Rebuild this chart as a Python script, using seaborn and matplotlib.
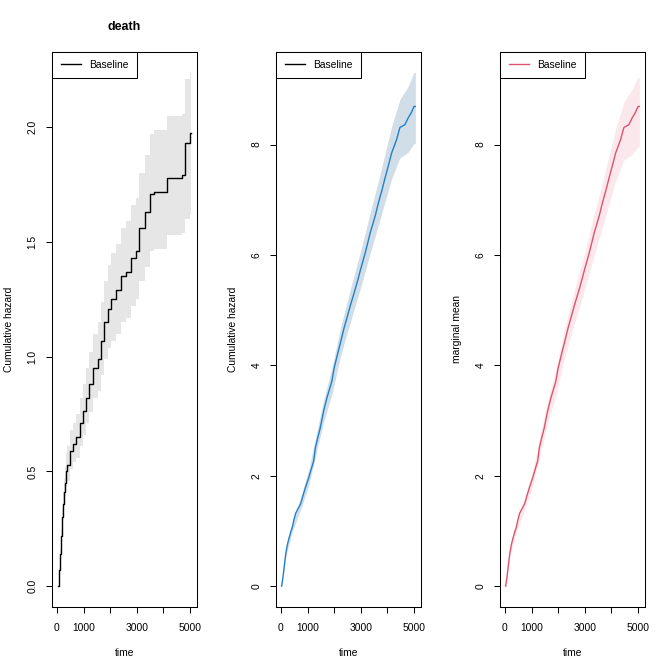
import matplotlib
matplotlib.use("Agg")
import matplotlib.pyplot as plt
import seaborn as sns
from matplotlib.lines import Line2D

plt.rcParams['font.family'] = ['Liberation Sans', 'DejaVu Sans']

# panel 1: death, cumulative hazard with band
death_time = [30, 70, 110, 150, 190, 230, 270, 310, 350, 390, 481, 604, 730, 852, 974,
              1100, 1222, 1344, 1530, 1656, 1778, 1900, 2026, 2211, 2396, 2581, 2767,
              2952, 3074, 3322, 3507, 3630, 4122, 4678, 4804, 4990, 5045]
death_haz = [0.00, 0.07, 0.14, 0.22, 0.30, 0.36, 0.41, 0.45, 0.50, 0.53, 0.59, 0.62, 0.65,
             0.71, 0.765, 0.82, 0.88, 0.95, 0.99, 1.07, 1.15, 1.21, 1.25, 1.29, 1.35, 1.37,
             1.43, 1.46, 1.56, 1.63, 1.71, 1.72, 1.78, 1.79, 1.93, 1.975, 1.975]
death_lo = [0.00, 0.06, 0.12, 0.19, 0.26, 0.31, 0.35, 0.39, 0.43, 0.46, 0.51, 0.54, 0.56,
            0.61, 0.66, 0.71, 0.76, 0.82, 0.85, 0.92, 0.99, 1.04, 1.07, 1.10, 1.15, 1.17,
            1.22, 1.25, 1.33, 1.39, 1.46, 1.47, 1.53, 1.54, 1.60, 1.62, 1.62]
death_up = [0.00, 0.08, 0.16, 0.25, 0.34, 0.41, 0.47, 0.52, 0.58, 0.61, 0.68, 0.71, 0.75,
            0.82, 0.88, 0.95, 1.02, 1.10, 1.15, 1.24, 1.33, 1.40, 1.45, 1.49, 1.56, 1.59,
            1.66, 1.69, 1.80, 1.88, 1.97, 1.99, 2.05, 2.06, 2.21, 2.24, 2.24]

# panel 2: recurrent events, cumulative hazard
rec_time = [30, 80, 130, 185, 240, 300, 370, 432, 490, 555, 640, 740, 830, 925, 1048, 1140,
            1233, 1295, 1390, 1480, 1603, 1727, 1820, 1912, 1998, 2120, 2246, 2368, 2490,
            2616, 2710, 2801, 2900, 2986, 3080, 3171, 3260, 3356, 3450, 3541, 3663, 3790,
            3911, 4040, 4157, 4250, 4342, 4466, 4651, 4773, 4896, 4995, 5045]
rec_haz = [0.00, 0.16, 0.37, 0.59, 0.74, 0.86, 0.98, 1.07, 1.20, 1.32, 1.40, 1.49, 1.64,
           1.79, 1.97, 2.12, 2.27, 2.51, 2.70, 2.87, 3.17, 3.41, 3.56, 3.71, 3.95, 4.19,
           4.43, 4.67, 4.88, 5.10, 5.25, 5.40, 5.57, 5.73, 5.89, 6.05, 6.22, 6.41, 6.56,
           6.71, 6.95, 7.17, 7.40, 7.63, 7.85, 7.97, 8.09, 8.31, 8.36, 8.48, 8.58, 8.69, 8.69]
rec_band_time = [30, 185, 432, 740, 1048, 1295, 1603, 1912, 2246, 2616, 2986, 3356, 3663,
                 3911, 4157, 4466, 4773, 4995, 5045]
rec_lo = [0.00, 0.54, 0.99, 1.38, 1.83, 2.34, 2.97, 3.47, 4.18, 4.80, 5.40, 6.04, 6.55,
          6.97, 7.38, 7.76, 7.86, 8.02, 8.02]
rec_up = [0.00, 0.64, 1.15, 1.60, 2.11, 2.68, 3.37, 3.95, 4.70, 5.40, 6.06, 6.78, 7.35,
          7.84, 8.33, 8.82, 9.05, 9.31, 9.31]

# panel 3: marginal mean (same course as panel 2 in the picture)
mm_time = rec_time
mm_mean = rec_haz
mm_band_time = rec_band_time
mm_lo = [0.00, 0.54, 0.99, 1.37, 1.82, 2.32, 2.95, 3.45, 4.15, 4.77, 5.37, 6.00, 6.51,
         6.93, 7.34, 7.72, 7.82, 7.96, 7.96]
mm_up = [0.00, 0.64, 1.14, 1.59, 2.10, 2.67, 3.35, 3.93, 4.68, 5.38, 6.03, 6.75, 7.32,
         7.80, 8.29, 8.77, 9.00, 9.22, 9.22]

x_ticks = [0, 1000, 2000, 3000, 4000, 5000]
x_ticklabels = ['0', '1000', '', '3000', '', '5000']

FS = 7.4


def r_range(lo, hi):
    d = hi - lo
    return lo - 0.04 * d, hi + 0.04 * d


def style(ax, t, ymax, yticks, ylabels, ylabel, legend_col):
    ax.set_xlim(*r_range(min(t), max(t)))
    ax.set_ylim(*r_range(0, ymax))
    ax.set_xticks(x_ticks)
    ax.set_xticklabels(x_ticklabels, fontsize=FS)
    ax.set_yticks(yticks)
    ax.set_yticklabels(ylabels, fontsize=FS, rotation=90, va='center')
    ax.tick_params(direction='out', length=4.6, width=0.75, color='black')
    ax.tick_params(axis='x', pad=7)
    ax.tick_params(axis='y', pad=6)
    for s in ax.spines.values():
        s.set_linewidth(0.75)
        s.set_color('black')
    ax.set_xlabel('time', fontsize=FS, va='top')
    ax.xaxis.set_label_coords(0.5, -0.074)
    ax.set_ylabel(ylabel, fontsize=FS)
    ax.yaxis.set_label_coords(-0.268, 0.5)
    h = [Line2D([], [], color=legend_col, lw=1.0)]
    leg = ax.legend(h, ['Baseline'], loc='upper left', bbox_to_anchor=(0, 1),
                    borderaxespad=0, fontsize=FS, frameon=True, fancybox=False,
                    framealpha=1, edgecolor='black', borderpad=0.8,
                    handlelength=1.95, handletextpad=0.85)
    leg.get_frame().set_linewidth(0.75)


fig = plt.figure(figsize=(6.72, 6.72), dpi=100)
px = 1 / 672
axes = [fig.add_axes([l * px, 65.3 * px, 144.4 * px, 555 * px]) for l in (52.3, 276.3, 500.3)]

ax = axes[0]
ax.fill_between(death_time, death_lo, death_up, step='post', color='#E6E6E6', lw=0)
sns.lineplot(x=death_time, y=death_haz, drawstyle='steps-post', color='black', lw=1.0,
             estimator=None, sort=False, ax=ax)
style(ax, death_time, max(death_up), [0, 0.5, 1.0, 1.5, 2.0],
      ['0.0', '0.5', '1.0', '1.5', '2.0'], 'Cumulative hazard', 'black')
ax.text(0.5, 1 + 24.7 / 555, 'death', fontsize=8.9, fontweight='bold',
        ha='center', va='center', transform=ax.transAxes)

ax = axes[1]
ax.fill_between(rec_band_time, rec_lo, rec_up, color='#D2DEE7', lw=0)
sns.lineplot(x=rec_time, y=rec_haz, color='#2080CC', lw=1.0,
             estimator=None, sort=False, ax=ax)
style(ax, rec_time, max(rec_up), [0, 2, 4, 6, 8], ['0', '2', '4', '6', '8'],
      'Cumulative hazard', 'black')

ax = axes[2]
ax.fill_between(mm_band_time, mm_lo, mm_up, color='#FBE8EC', lw=0)
sns.lineplot(x=mm_time, y=mm_mean, color='#DF536B', lw=1.0,
             estimator=None, sort=False, ax=ax)
style(ax, mm_time, max(rec_up), [0, 2, 4, 6, 8], ['0', '2', '4', '6', '8'],
      'marginal mean', '#DF536B')

fig.savefig('out.png', dpi=100)
